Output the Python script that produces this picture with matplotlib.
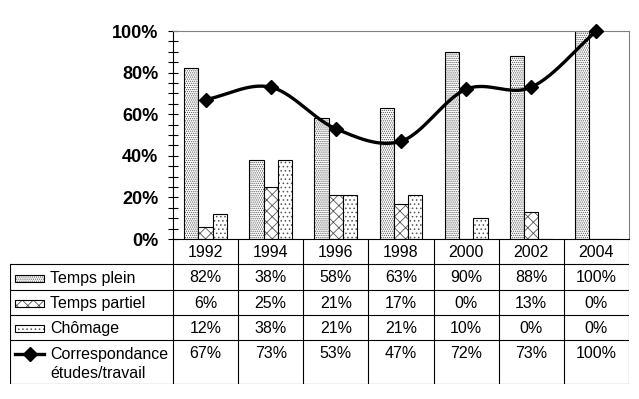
import numpy as np
import matplotlib

matplotlib.use("Agg")
import matplotlib.pyplot as plt
from matplotlib.patches import Rectangle

plt.rcParams["font.family"] = ["Liberation Sans", "DejaVu Sans"]
plt.rcParams["hatch.linewidth"] = 0.6

years = ["1992", "1994", "1996", "1998", "2000", "2002", "2004"]
temps_plein = [82, 38, 58, 63, 90, 88, 100]
temps_partiel = [6, 25, 21, 17, 0, 13, 0]
chomage = [12, 38, 21, 21, 10, 0, 0]
correspondance = [67, 73, 53, 47, 72, 73, 100]

series = [
    ("Temps plein", temps_plein, "........"),
    ("Temps partiel", temps_partiel, "xxx"),
    ("Chômage", chomage, "...."),
]

W, H = 639, 399
fig = plt.figure(figsize=(W / 100, H / 100), dpi=100)


def fx(px):
    return px / W


def fy(py):
    return 1 - py / H


# pixel layout of the plot area and table
L, R, T, B = 173, 629, 31, 239
TL, TB = 10, 384
row_lines = [264, 290, 315, 340]

ax = fig.add_axes([fx(L), fy(B), fx(R) - fx(L), fy(T) - fy(B)])
x = np.arange(len(years))
width = 0.22
for k, (name, vals, hatch) in enumerate(series):
    pos = x + (k - 1) * width
    ax.bar(pos, vals, width, color="white", edgecolor="#555555", hatch=hatch,
           linewidth=0)
    ax.bar(pos, vals, width, fill=False, edgecolor="black", linewidth=0.8)


def catmull_rom(xs, ys, n=30):
    xs = np.asarray(xs, float)
    ys = np.asarray(ys, float)
    px = np.concatenate([[2 * xs[0] - xs[1]], xs, [2 * xs[-1] - xs[-2]]])
    py = np.concatenate([[2 * ys[0] - ys[1]], ys, [2 * ys[-1] - ys[-2]]])
    out_x, out_y = [], []
    t = np.linspace(0, 1, n)
    for i in range(1, len(px) - 2):
        for arr, out in ((px, out_x), (py, out_y)):
            p0, p1, p2, p3 = arr[i - 1], arr[i], arr[i + 1], arr[i + 2]
            out.extend(0.5 * ((2 * p1) + (-p0 + p2) * t
                              + (2 * p0 - 5 * p1 + 4 * p2 - p3) * t ** 2
                              + (-p0 + 3 * p1 - 3 * p2 + p3) * t ** 3))
    return np.array(out_x), np.array(out_y)


sx, sy = catmull_rom(x, correspondance)
ax.plot(sx, sy, color="black", linewidth=2.4, clip_on=False, zorder=4)
ax.plot(x, correspondance, linestyle="none", marker="D", markersize=7.5,
        color="black", clip_on=False, zorder=5)

ax.set_xlim(-0.5, len(years) - 0.5)
ax.set_ylim(0, 100)
ax.set_xticks([])
ax.set_yticks(np.arange(0, 101, 20))
ax.set_yticks(np.arange(0, 101, 5), minor=True)
ax.set_yticklabels([f"{v}%" for v in range(0, 101, 20)], fontsize=13,
                   fontweight="bold")
ax.tick_params(axis="y", which="both", direction="inout", length=7,
               width=0.8, pad=7)
for side in ("top", "right"):
    ax.spines[side].set_color("#808080")
    ax.spines[side].set_linewidth(0.8)
for side in ("left", "bottom"):
    ax.spines[side].set_linewidth(0.8)

# data table below, sharing the column grid of the plot
unit = (R - L) / len(years)
tab = fig.add_axes([fx(TL), fy(TB), fx(R) - fx(TL), fy(B) - fy(TB)])
tab.set_xlim(-0.5 - (L - TL) / unit, len(years) - 0.5)
tab.set_ylim(TB, B)
tab.axis("off")
lw = 0.8
for i in range(len(years) + 1):
    tab.plot([i - 0.5, i - 0.5], [B, TB], color="black", lw=lw)
xl = -0.5 - (L - TL) / unit
tab.plot([xl, xl], [row_lines[0], TB], color="black", lw=lw)
for yl in row_lines + [TB]:
    tab.plot([xl, len(years) - 0.5], [yl, yl], color="black", lw=lw)

fs = 11.5
for i, yr in enumerate(years):
    tab.text(i, (B + row_lines[0]) / 2 + 1, yr, ha="center", va="center",
             fontsize=fs)

label_x = xl + (50 - TL) / unit
key_l = xl + (15 - TL) / unit
key_r = xl + (44 - TL) / unit
row_bounds = row_lines + [TB]
for r, (name, vals, hatch) in enumerate(series):
    yc = (row_bounds[r] + row_bounds[r + 1]) / 2 + 1
    tab.add_patch(Rectangle((key_l, yc - 3.5), key_r - key_l, 7,
                            facecolor="white", edgecolor="#555555",
                            hatch=hatch, linewidth=0))
    tab.add_patch(Rectangle((key_l, yc - 3.5), key_r - key_l, 7, fill=False,
                            edgecolor="black", linewidth=0.8))
    tab.text(label_x, yc, name, ha="left", va="center", fontsize=fs)
    for i, v in enumerate(vals):
        tab.text(i, yc, f"{v}%", ha="center", va="center", fontsize=fs)

y_line = 354
tab.plot([key_l, key_r], [y_line, y_line], color="black", lw=2.4)
tab.plot([(key_l + key_r) / 2], [y_line], marker="D", markersize=7.5,
         color="black")
tab.text(label_x, y_line, "Correspondance", ha="left", va="center", fontsize=fs)
tab.text(label_x, 374, "études/travail", ha="left", va="center", fontsize=fs)
for i, v in enumerate(correspondance):
    tab.text(i, y_line, f"{v}%", ha="center", va="center", fontsize=fs)

fig.savefig("out.png", dpi=100)
